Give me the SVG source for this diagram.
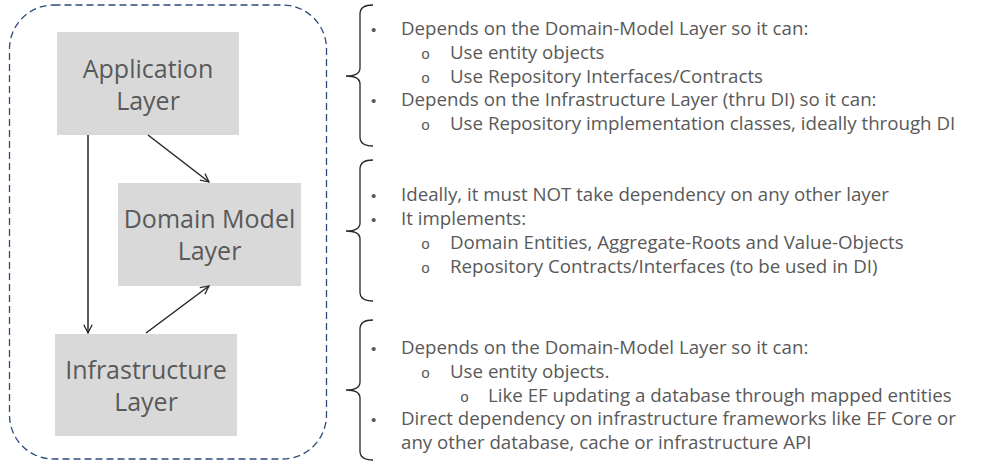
<svg xmlns="http://www.w3.org/2000/svg" width="1002" height="468" viewBox="0 0 1002 468">
<style>
.box{fill:#d9d9d9}
.bt{font-family:"Open Sans","Noto Sans",sans-serif;font-size:25px;fill:#595959;text-anchor:middle}
.t{font-family:"Open Sans","Noto Sans",sans-serif;font-size:18.7px;fill:#595959}
.b{font-family:"Liberation Sans",sans-serif;font-size:15px;fill:#595959}
.o{font-family:"Liberation Mono",monospace;font-size:15px;fill:#595959}
.conn{stroke:#262626;stroke-width:1.5;fill:none}
.brace{stroke:#262626;stroke-width:1.3;fill:none}
</style>
<defs>
<marker id="arr" viewBox="0 0 12 12" refX="11" refY="6" markerWidth="10" markerHeight="10" orient="auto" markerUnits="userSpaceOnUse">
<path d="M1,1 L11,6 L1,11" fill="none" stroke="#262626" stroke-width="1.5"/>
</marker>
</defs>
<rect x="9.5" y="5" width="317" height="454" rx="44" ry="44" fill="none" stroke="#2f4a7c" stroke-width="1.3" stroke-dasharray="7,4"/>
<g id="app">
<rect class="box" x="57" y="32" width="182" height="103"/>
<text class="bt" x="148" y="78">Application</text>
<text class="bt" x="148" y="110">Layer</text>
</g>
<g id="domain">
<rect class="box" x="118" y="183" width="183" height="103"/>
<text class="bt" x="209.5" y="228">Domain Model</text>
<text class="bt" x="209.5" y="260">Layer</text>
</g>
<g id="infra">
<rect class="box" x="55" y="334" width="182" height="102"/>
<text class="bt" x="146" y="379">Infrastructure</text>
<text class="bt" x="146" y="411">Layer</text>
</g>
<g id="connectors">
<line class="conn" x1="88" y1="135" x2="88" y2="333" marker-end="url(#arr)"/>
<line class="conn" x1="148" y1="135" x2="209" y2="182" marker-end="url(#arr)"/>
<line class="conn" x1="146" y1="333" x2="209" y2="286" marker-end="url(#arr)"/>
</g>
<g id="notes-app">
<path class="brace" d="M373,5 Q360,5 360,14 L360,68 Q360,76 346,76 Q360,76 360,84 L360,137 Q360,146 373,146"/>
<text class="b" x="371" y="35">•</text>
<text class="t" x="401" y="35">Depends on the Domain-Model Layer so it can:</text>
<text class="o" x="421" y="59">o</text>
<text class="t" x="450" y="59">Use entity objects</text>
<text class="o" x="421" y="83">o</text>
<text class="t" x="450" y="83">Use Repository Interfaces/Contracts</text>
<text class="b" x="371" y="106">•</text>
<text class="t" x="401" y="106">Depends on the Infrastructure Layer (thru DI) so it can:</text>
<text class="o" x="421" y="130">o</text>
<text class="t" x="450" y="130">Use Repository implementation classes, ideally through DI</text>
</g>
<g id="notes-domain">
<path class="brace" d="M373,160 Q360,160 360,169 L360,223 Q360,231 346,231 Q360,231 360,239 L360,292 Q360,301 373,301"/>
<text class="b" x="371" y="201">•</text>
<text class="t" x="401" y="201">Ideally, it must NOT take dependency on any other layer</text>
<text class="b" x="371" y="225">•</text>
<text class="t" x="401" y="225">It implements:</text>
<text class="o" x="421" y="249">o</text>
<text class="t" x="450" y="249">Domain Entities, Aggregate-Roots and Value-Objects</text>
<text class="o" x="421" y="273">o</text>
<text class="t" x="450" y="273">Repository Contracts/Interfaces (to be used in DI)</text>
</g>
<g id="notes-infra">
<path class="brace" d="M373,320 Q360,320 360,329 L360,382 Q360,390 346,390 Q360,390 360,398 L360,451 Q360,460 373,460"/>
<text class="b" x="371" y="354">•</text>
<text class="t" x="401" y="354">Depends on the Domain-Model Layer so it can:</text>
<text class="o" x="421" y="378">o</text>
<text class="t" x="450" y="378">Use entity objects.</text>
<text class="o" x="460" y="402">o</text>
<text class="t" x="488" y="402">Like EF updating a database through mapped entities</text>
<text class="b" x="371" y="425">•</text>
<text class="t" x="401" y="425">Direct dependency on infrastructure frameworks like EF Core or</text>
<text class="t" x="401" y="449">any other database, cache or infrastructure API</text>
</g>
</svg>
